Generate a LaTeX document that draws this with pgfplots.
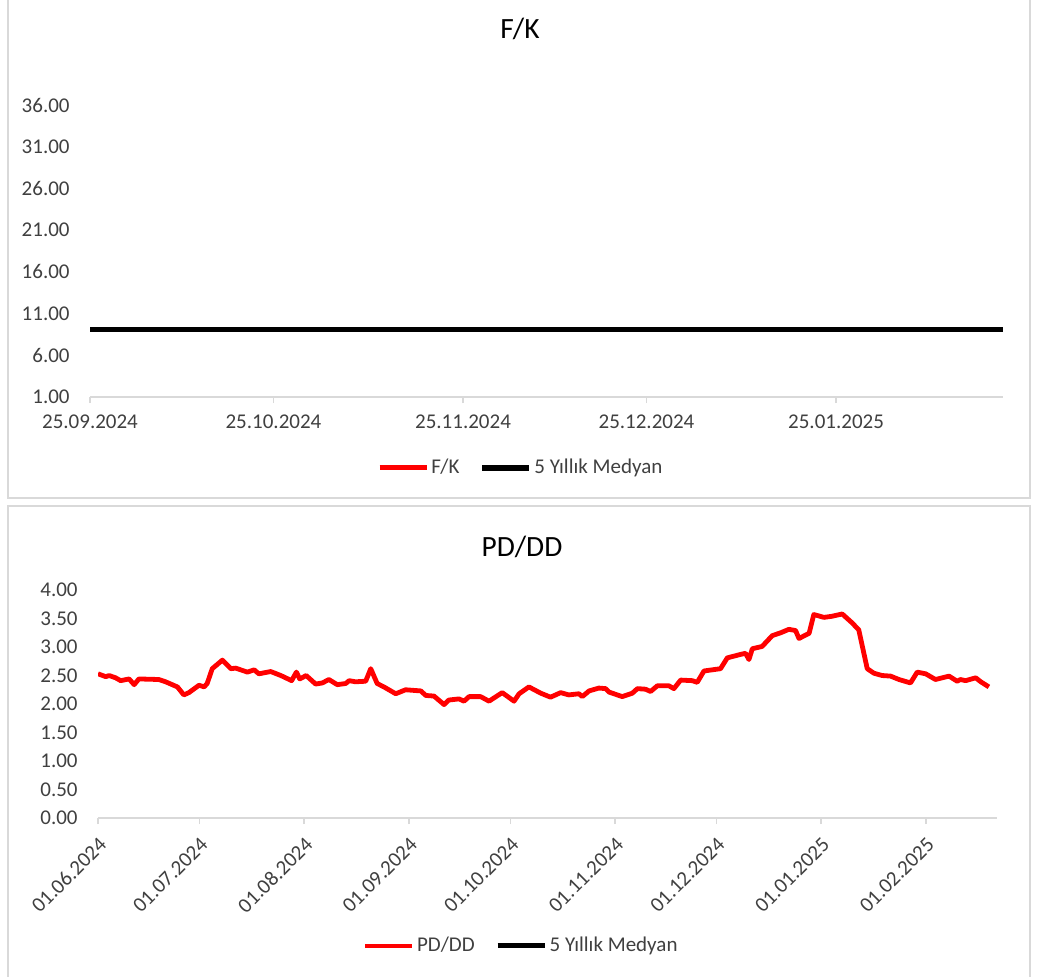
\documentclass[border=0pt]{standalone}
\usepackage{pgfplots}
\pgfplotsset{compat=1.18}
\usepackage{fontspec}
\setmainfont{Carlito}
\definecolor{lbl}{HTML}{404040}
\definecolor{axgray}{HTML}{D9D9D9}
\pgfplotsset{
  myax/.style={
    scale only axis,
    axis x line*=bottom, axis y line*=left,
    y axis line style={draw=none},
    x axis line style={-, draw=axgray, line width=0.8pt},
    xtick style={draw=axgray, line width=0.8pt},
    ytick style={draw=none},
    major tick length=3pt,
    tick align=outside,
    ticklabel style={font=\fontsize{10.5}{12}\selectfont, text=lbl},
    yticklabel style={anchor=east, inner sep=0pt, xshift=-7pt},
    xticklabel style={inner sep=0pt},
    /pgf/number format/fixed, /pgf/number format/fixed zerofill,
    /pgf/number format/precision=2,
    /pgf/number format/assume math mode=true,
    legend columns=2,
    legend cell align=left,
    legend image code/.code={\draw[##1] (0pt,0pt) -- (23.5pt,0pt);},
    legend style={draw=none, fill=none, anchor=center,
      font=\fontsize{10.5}{12}\selectfont, text=lbl, inner sep=0pt,
      nodes={inner sep=1.2pt},
      /tikz/every even column/.append style={column sep=9pt}},
  }
}
\begin{document}
\begin{tikzpicture}
\path[use as bounding box, fill=white] (0,0) rectangle (524pt,-488pt);
\draw[gray!30, line width=0.8pt] (4pt,1pt) -- (4pt,-249pt) -- (515pt,-249pt) -- (515pt,1pt);
\draw[gray!30, line width=0.8pt] (4pt,-489pt) -- (4pt,-253pt) -- (515pt,-253pt) -- (515pt,-489pt);
\node[anchor=base, font=\fontsize{14.7}{16}\selectfont] at (260pt,-19pt) {F/K};
\node[anchor=base, font=\fontsize{14.7}{16}\selectfont] at (261pt,-278pt) {PD/DD};

\begin{axis}[myax, at={(45pt,-198.5pt)}, anchor=south west,
  width=456.5pt, height=146pt,
  xmin=0, xmax=149.3, ymin=1, ymax=36,
  ytick={1,6,...,36},
  xtick={0,30,61,91,122},
  xticklabels={25.09.2024,25.10.2024,25.11.2024,25.12.2024,25.01.2025},
  xticklabel style={anchor=north, yshift=-5.5pt},
  legend style={at={(0.472,-0.243)}}]
\addlegendimage{red, line width=2.5pt}
\addlegendentry{F/K}
\addplot[black, line width=2.6pt] coordinates {(0,9.05) (149.3,9.05)};
\addlegendentry{5 Yıllık Medyan}
\end{axis}

\begin{axis}[myax, at={(49pt,-409pt)}, anchor=south west,
  width=449.5pt, height=114pt,
  xmin=0, xmax=266, ymin=0, ymax=4,
  ytick={0,0.5,...,4},
  xtick={0,30,61,92,122,153,183,214,245},
  xticklabels={01.06.2024,01.07.2024,01.08.2024,01.09.2024,01.10.2024,01.11.2024,01.12.2024,01.01.2025,01.02.2025},
  xticklabel style={xshift=2.5pt, yshift=-8.5pt, rotate=45, anchor=east},
  legend style={at={(0.471,-0.561)}}]
\addplot[red, line width=2.4pt, line join=round] coordinates {
(0,2.53) (2.3,2.48) (3.3,2.50) (5.2,2.46) (6.7,2.41) (9.2,2.44) (10.7,2.34) (12.1,2.44) (18.0,2.43) (20.0,2.39) (23.5,2.30) (25.4,2.16) (26.9,2.20) (29.9,2.33) (31.4,2.30) (32.3,2.36) (33.8,2.62) (36.8,2.77) (39.3,2.62) (40.7,2.63) (44.2,2.56) (46.2,2.60) (47.6,2.53) (51.1,2.57) (54.1,2.50) (57.3,2.41) (58.7,2.56) (59.7,2.44) (61.6,2.50) (64.4,2.35) (66.4,2.37) (68.3,2.43) (70.8,2.34) (73.3,2.36) (74.3,2.41) (76.2,2.39) (79.2,2.40) (80.7,2.62) (82.6,2.36) (84.6,2.30) (88.1,2.18) (91.0,2.25) (95.5,2.23) (97.0,2.15) (99.4,2.14) (102.4,1.99) (103.8,2.07) (106.8,2.09) (108.3,2.05) (109.8,2.13) (113.2,2.13) (115.7,2.05) (119.6,2.20) (123.1,2.05) (124.6,2.18) (127.5,2.30) (131.0,2.19) (133.9,2.12) (136.9,2.20) (139.3,2.16) (142.3,2.18) (143.3,2.13) (145.3,2.23) (148.2,2.28) (150.2,2.27) (151.2,2.21) (155.1,2.13) (158.1,2.19) (159.6,2.27) (162.0,2.26) (163.5,2.22) (165.5,2.32) (168.9,2.32) (170.4,2.27) (172.4,2.42) (175.8,2.41) (177.3,2.38) (179.3,2.58) (184.2,2.62) (186.2,2.81) (190.1,2.87) (191.6,2.89) (192.6,2.78) (193.6,2.97) (196.5,3.01) (199.5,3.20) (202.0,3.25) (204.4,3.31) (206.4,3.29) (207.4,3.15) (210.4,3.24) (211.8,3.57) (214.8,3.52) (217.2,3.54) (220.2,3.58) (223.2,3.42) (225.1,3.30) (227.6,2.62) (229.6,2.54) (232.0,2.50) (234.5,2.49) (237.0,2.43) (240.4,2.37) (242.4,2.56) (244.9,2.53) (247.8,2.43) (251.8,2.49) (254.2,2.40) (255.2,2.43) (256.7,2.41) (259.7,2.46) (261.2,2.39) (263.6,2.30)
};
\addlegendentry{PD/DD}
\addlegendimage{black, line width=2.5pt}
\addlegendentry{5 Yıllık Medyan}
\end{axis}
\end{tikzpicture}
\end{document}
